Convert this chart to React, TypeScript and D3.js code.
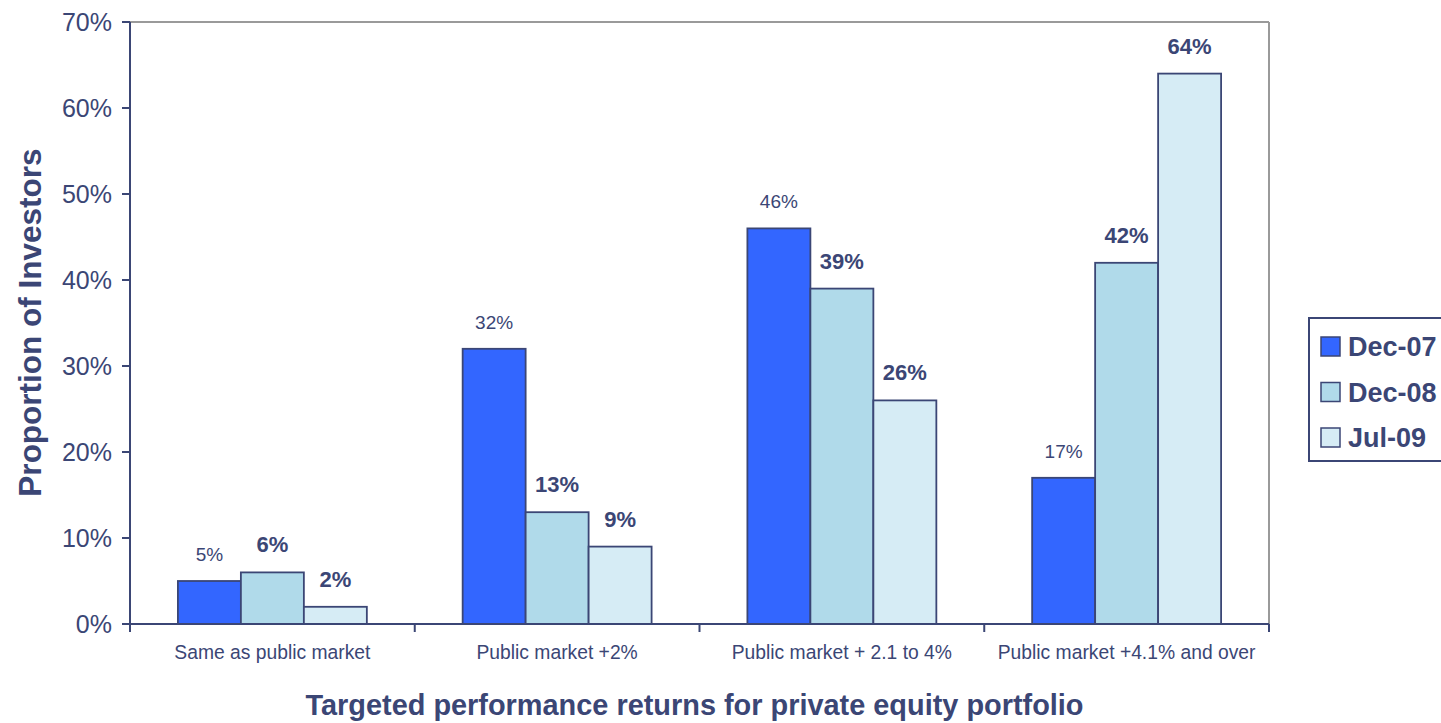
import React from "react";
import * as d3 from "d3";

const categories = [
  "Same as public market",
  "Public market +2%",
  "Public market + 2.1 to 4%",
  "Public market +4.1% and over",
];
const seriesNames = ["Dec-07", "Dec-08", "Jul-09"];
const dec07 = [5, 32, 46, 17];
const dec08 = [6, 13, 39, 42];
const jul09 = [2, 9, 26, 64];
const yTicks = [0, 10, 20, 30, 40, 50, 60, 70];

const colors = ["#3366FF", "#B0DAEA", "#D6ECF5"];
const navy = "#3B4675";
const FONT = "Arial, 'Liberation Sans', Helvetica, sans-serif";

export default function App() {
  const W = 1441, H = 723;
  const left = 130, right = 1269, top = 22, bottom = 624;
  const series = [dec07, dec08, jul09];

  const x0 = d3.scaleBand<string>().domain(categories).range([left, right]).padding(0);
  const x1 = d3
    .scaleBand<string>()
    .domain(seriesNames)
    .range([47.9, x0.bandwidth() - 47.9])
    .padding(0);
  const y = d3.scaleLinear().domain([0, 70]).range([bottom, top]);

  const boundaries = [...categories.map((c) => x0(c) as number), right];

  return (
    <svg width={W} height={H} style={{ position: "absolute", left: 0, top: 0 }} fontFamily={FONT}>
      <rect x={0} y={0} width={W} height={H} fill="#fff" />
      {/* frame top/right */}
      <line x1={left} y1={top} x2={right} y2={top} stroke="#9a9a9a" strokeWidth={2} />
      <line x1={right} y1={top} x2={right} y2={bottom} stroke="#9a9a9a" strokeWidth={2} />

      {/* bars */}
      {categories.map((c, ci) =>
        series.map((s, si) => {
          const bx = (x0(c) as number) + (x1(seriesNames[si]) as number);
          const bw = x1.bandwidth();
          return (
            <rect
              key={c + si}
              x={bx}
              y={y(s[ci])}
              width={bw}
              height={bottom - y(s[ci])}
              fill={colors[si]}
              stroke={navy}
              strokeWidth={1.8}
            />
          );
        })
      )}

      {/* data labels */}
      {categories.map((c, ci) =>
        series.map((s, si) => {
          const cx = (x0(c) as number) + (x1(seriesNames[si]) as number) + x1.bandwidth() / 2;
          return (
            <text
              key={"l" + c + si}
              x={cx}
              y={y(s[ci]) - 20}
              textAnchor="middle"
              fontSize={si === 0 ? 19 : 22}
              fontWeight={si === 0 ? "normal" : "bold"}
              fill={navy}
            >
              {s[ci]}%
            </text>
          );
        })
      )}

      {/* y axis */}
      <line x1={left} y1={top} x2={left} y2={bottom} stroke={navy} strokeWidth={2} />
      {yTicks.map((t) => (
        <g key={t}>
          <line x1={left - 8} x2={left} y1={y(t)} y2={y(t)} stroke={navy} strokeWidth={2} />
          <text
            x={112}
            y={y(t)}
            dy="0.36em"
            textAnchor="end"
            fontSize={25}
            fill={navy}
          >
            {t}%
          </text>
        </g>
      ))}

      {/* x axis */}
      <line x1={left} y1={bottom} x2={right} y2={bottom} stroke={navy} strokeWidth={2} />
      {boundaries.map((b, i) => (
        <line key={i} x1={b} x2={b} y1={bottom} y2={bottom + 8} stroke={navy} strokeWidth={2} />
      ))}
      {categories.map((c) => (
        <text
          key={c}
          x={(x0(c) as number) + x0.bandwidth() / 2}
          y={659}
          textAnchor="middle"
          fontSize={19.3}
          fill={navy}
        >
          {c}
        </text>
      ))}

      {/* axis titles */}
      <text x={694.5} y={715} textAnchor="middle" fontSize={28.9} fontWeight="bold" fill={navy}>
        Targeted performance returns for private equity portfolio
      </text>
      <text
        transform={`translate(41, ${(148 + 497) / 2}) rotate(-90)`}
        textAnchor="middle"
        fontSize={31.5}
        fontWeight="bold"
        fill={navy}
      >
        Proportion of Investors
      </text>

      {/* legend */}
      <rect x={1309} y={318} width={150} height={143} fill="#fff" stroke={navy} strokeWidth={2} />
      {seriesNames.map((n, i) => (
        <g key={n}>
          <rect
            x={1321}
            y={337 + i * 45.5}
            width={19}
            height={19}
            fill={colors[i]}
            stroke={navy}
            strokeWidth={1.5}
          />
          <text x={1348} y={346.5 + i * 45.5} dy="0.36em" fontSize={27} fontWeight="bold" fill={navy}>
            {n}
          </text>
        </g>
      ))}
    </svg>
  );
}
